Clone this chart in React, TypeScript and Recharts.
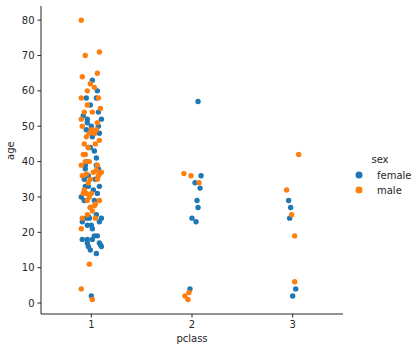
import React from 'react';
import { ScatterChart, Scatter, XAxis, YAxis } from 'recharts';

// pclass with strip jitter, age
const femaleX = [
  1.01, 1.06, 0.95, 1.05, 0.99, 1.07, 0.92, 1.10, 0.96, 0.96, 1.00, 1.07, 0.95, 1.08, 1.01, 0.99, 0.97, 1.03, 1.05, 0.94,
  0.95, 1.05, 1.07, 0.93, 1.04, 0.97, 0.94, 0.97, 1.08, 0.90, 1.03, 1.02, 1.06, 0.99, 1.05, 0.95, 0.91, 0.98, 1.10, 1.08,
  0.96, 1.00, 1.01, 0.91, 0.96, 1.01, 1.03, 1.06, 0.96, 0.97, 0.99, 1.05, 1.08, 1.10, 1.09, 1.00, 0.93, 1.03, 0.97, 0.94,
  2.06, 2.09, 2.03, 2.08, 2.05, 2.06, 2.00, 2.04, 1.98,
  2.96, 2.98, 2.97, 3.03, 3.00,
];
const femaleAge = [
  63, 60, 58, 58, 56, 54, 53, 52, 52, 51, 50, 50, 49, 48, 47, 44, 44, 43, 41, 39,
  40, 39, 38, 35, 35, 36, 33, 33, 33, 30, 29, 32, 31, 27, 25, 24, 23, 24, 24, 23,
  22, 22, 21, 18, 18, 18, 19, 19, 17, 16, 15, 14, 17, 16, 16.5, 2, 29, 48, 24.5, 38,
  57, 36, 34, 32.5, 29, 27, 24, 23, 4,
  29, 27, 24, 4, 2,
];
const maleX = [
  0.90, 0.94, 1.08, 0.91, 1.06, 0.99, 1.03, 0.96, 0.90, 1.07, 0.96, 1.09, 0.93, 1.01, 0.90, 0.91, 1.06, 0.95, 1.00, 1.03,
  1.05, 0.98, 0.93, 1.04, 1.08, 0.97, 0.92, 0.94, 0.90, 0.94, 0.98, 1.06, 1.02, 0.91, 0.95, 0.99, 1.08, 1.10, 1.06, 0.93,
  0.92, 0.95, 0.98, 1.00, 0.96, 1.08, 1.04, 0.99, 1.01, 0.96, 1.04, 0.91, 0.90, 0.98, 0.90, 1.01, 1.03, 0.97, 1.05, 1.07,
  1.92, 1.99, 2.07, 1.97, 1.93, 1.96,
  3.06, 2.94, 2.99, 3.02, 3.02,
];
const maleAge = [
  80, 70, 71, 64, 65, 62, 61, 60, 58, 58, 56, 55, 54, 54, 52, 50, 51, 47, 49, 48,
  49, 48, 45, 45, 46, 44, 42, 42, 39, 40, 40, 39, 37, 36, 36.5, 35, 36.5, 37, 35, 32,
  31, 31, 30, 31, 29, 29, 28, 27, 26, 25, 24, 24, 21, 11, 4, 1, 27.5, 34, 37.5, 36,
  36.6, 36, 34, 3, 2, 1,
  42, 32, 25, 19, 6,
];
const xTicks = [1, 2, 3];
const yTicks = [0, 10, 20, 30, 40, 50, 60, 70, 80];

const female = femaleX.map((x, i) => ({ x, age: femaleAge[i] }));
const male = maleX.map((x, i) => ({ x, age: maleAge[i] }));

const ink = '#262626';
const font = 'DejaVu Sans';

const dot = (color: string) => (props: any) => <circle cx={props.cx} cy={props.cy} r={2.7} fill={color} />;

const LegendBox = () => (
  <svg width={70} height={50} style={{ position: 'absolute', left: 350, top: 150 }}>
    <text x={30} y={13} fontSize={10} fontFamily={font} fill={ink} textAnchor="middle">sex</text>
    <circle cx={9} cy={25} r={3.5} fill="#1f77b4" />
    <text x={27} y={29} fontSize={10} fontFamily={font} fill={ink}>female</text>
    <circle cx={9} cy={40} r={3.5} fill="#ff7f0e" />
    <text x={27} y={44} fontSize={10} fontFamily={font} fill={ink}>male</text>
  </svg>
);

const App = () => (
  <div style={{ position: 'absolute', left: 0, top: 0, width: 420, height: 352, background: '#fff' }}>
    <ScatterChart width={420} height={352} margin={{ top: 6, right: 77, bottom: 8, left: 0 }}>
      <XAxis
        type="number"
        dataKey="x"
        domain={[0.5, 3.5]}
        ticks={xTicks}
        height={30}
        stroke={ink}
        tick={{ fill: ink, fontSize: 10, fontFamily: font }}
        tickSize={3.5}
        tickMargin={3}
        label={{ value: 'pclass', position: 'insideBottom', offset: 2, fill: ink, fontSize: 10, fontFamily: font }}
      />
      <YAxis
        type="number"
        dataKey="age"
        domain={[-3.1, 84]}
        ticks={yTicks}
        width={41}
        stroke={ink}
        tick={{ fill: ink, fontSize: 10, fontFamily: font }}
        tickSize={3.5}
        tickMargin={3}
        allowDataOverflow
        label={{ value: 'age', angle: -90, position: 'insideLeft', offset: 10, fill: ink, fontSize: 10, fontFamily: font }}
      />
      <Scatter name="female" data={female} shape={dot('#1f77b4')} isAnimationActive={false} />
      <Scatter name="male" data={male} shape={dot('#ff7f0e')} isAnimationActive={false} />
    </ScatterChart>
    <LegendBox />
  </div>
);

export default App;
